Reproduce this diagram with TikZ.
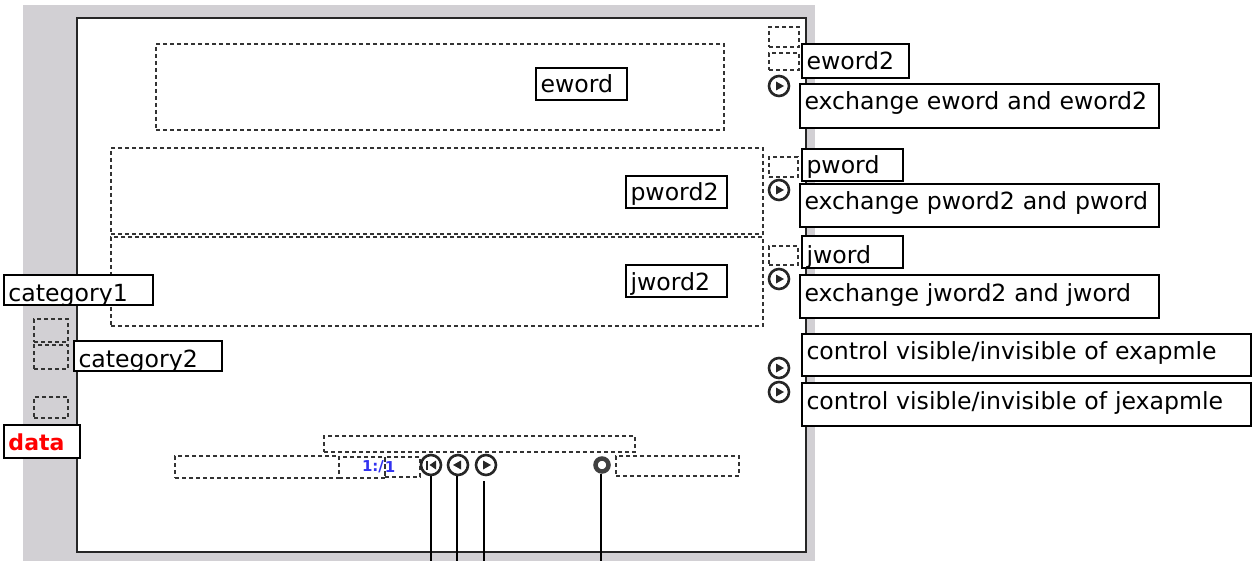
\documentclass[tikz,border=0pt]{standalone}
\usepackage{fontspec}
\setmainfont{DejaVu Sans}
\definecolor{panelgray}{RGB}{210,208,212}
\definecolor{pagerblue}{RGB}{50,50,240}
% [colour]{name}{x1}{y1}{x2}{y2}{baseline y}{text}
\newcommand{\lab}[8][black]{%
  \pgfmathsetmacro{\lblW}{#5-#3-11}%
  \pgfmathsetmacro{\lblH}{#6-#4}%
  \pgfmathsetmacro{\lblR}{(#4+#6)/2-#7}%
  \node[labelbox, text=#1, text width=\lblW pt, minimum height=\lblH pt] (#2) at ({(#3+#5)/2},{(#4+#6)/2}) {\smash{\raisebox{\lblR pt}{#8}}};}
\newcommand{\dbox}[5]{\node[dashbox, minimum width={(#4-#2)*1pt}, minimum height={(#5-#3)*1pt}] (#1) at ({(#2+#4)/2},{(#3+#5)/2}) {};}
\tikzset{
  labelbox/.style={draw=black, fill=white, line width=2pt, inner xsep=5pt, inner ysep=0pt, align=left, font=\fontsize{23.6}{25}\selectfont, anchor=center},
  dashbox/.style={draw=black!80, line width=1.4pt, dash pattern=on 4pt off 3pt, inner sep=0pt, anchor=center},
  roundbtn/.style={circle, draw=black!85, line width=2.6pt, fill=white, minimum size=20pt, inner sep=0pt},
  playbtn/.style={roundbtn, path picture={\fill[black!85] (path picture bounding box.center) ++(-3pt,-4.5pt) -- ++(8pt,4.5pt) -- ++(-8pt,4.5pt) -- cycle;}},
  backbtn/.style={roundbtn, path picture={\fill[black!85] (path picture bounding box.center) ++(3pt,-4.5pt) -- ++(-8pt,4.5pt) -- ++(8pt,4.5pt) -- cycle;}},
  firstbtn/.style={roundbtn, path picture={\fill[black!85] (path picture bounding box.center) ++(5pt,-4.5pt) -- ++(-6.5pt,4.5pt) -- ++(6.5pt,4.5pt) -- cycle; \fill[black!85] (path picture bounding box.center) ++(-5.5pt,-4.5pt) rectangle ++(2pt,9pt);}},
  stopbtn/.style={circle, draw=black!75, line width=4.5pt, fill=white, minimum size=13pt, inner sep=0pt},
  wire/.style={draw=black, line width=2pt},
  pager/.style={text=pagerblue, font=\bfseries\fontsize{15}{15}\selectfont, inner sep=0pt}
}
\begin{document}
\begin{tikzpicture}[x=1pt,y=-1pt]
\useasboundingbox (0,0) rectangle (1252,561);
\fill[panelgray] (23,5) rectangle (815,561);
\draw[black!85, line width=2pt, fill=white] (77,18) rectangle (806,552);
\dbox{eArea}{156}{44}{724}{130}
\dbox{pArea}{111}{148}{763}{234}
\dbox{jArea}{111}{237}{763}{326}
\dbox{eTop}{769}{27}{799}{47}
\dbox{eSecond}{769}{53}{799}{70}
\dbox{pSmall}{769}{157}{798}{177}
\dbox{jSmall}{769}{246}{798}{265}
\dbox{catA}{34}{319}{68}{342}
\dbox{catB}{34}{345}{68}{369}
\dbox{dataBox}{34}{397}{68}{418}
\dbox{barTop}{324}{436}{635}{452}
\dbox{barLeft}{175}{456}{339}{478}
\dbox{barMid}{339}{457}{385}{478}
\dbox{barPage}{385}{457}{420}{477}
\dbox{barRight}{616}{456}{739}{476}
\node[pager] (pageA) at (373,467) {1:/};
\node[pager] (pageB) at (390,467) {1};
\node[playbtn] (btnE) at (779,86) {};
\node[playbtn] (btnP) at (779,190) {};
\node[playbtn] (btnJ) at (779,279) {};
\node[playbtn] (btnV) at (779,368) {};
\node[playbtn] (btnW) at (779,392) {};
\node[firstbtn] (btnFirst) at (431,465) {};
\node[backbtn] (btnBack) at (458,465) {};
\node[playbtn] (btnNext) at (486,465) {};
\node[stopbtn] (btnStop) at (602,465) {};
\coordinate (endFirst) at (431,561);
\coordinate (endBack) at (457,561);
\coordinate (endNext) at (484,561);
\coordinate (endStop) at (601,561);
\draw[wire] (btnFirst.south -| endFirst) -- (endFirst);
\draw[wire] (btnBack.south -| endBack) -- (endBack);
\draw[wire] ([yshift=-5pt]btnNext.south -| endNext) -- (endNext);
\draw[wire] (btnStop.south -| endStop) -- (endStop);
\lab{lEword}{535}{68}{627}{100}{93}{eword}
\lab{lEwordTwo}{801}{44}{909}{78}{70}{eword2}
\lab{lExE}{799}{84}{1159}{128}{110}{exchange eword and eword2}
\lab{lPword}{801}{149}{903}{181}{174}{pword}
\lab{lPwordTwo}{625}{176}{727}{208}{201}{pword2}
\lab{lExP}{799}{184}{1159}{227}{210}{exchange pword2 and pword}
\lab{lJword}{801}{236}{903}{268}{263}{jword}
\lab{lJwordTwo}{625}{265}{727}{297}{290}{jword2}
\lab{lExJ}{799}{275}{1159}{318}{301}{exchange jword2 and jword}
\lab{lCtlA}{801}{334}{1251}{376}{359}{control visible/invisible of exapmle}
\lab{lCtlB}{801}{383}{1251}{426}{409}{control visible/invisible of jexapmle}
\lab{lCatA}{3}{275}{153}{305}{301}{category1}
\lab{lCatB}{73}{341}{222}{371}{367}{category2}
\lab[red]{lData}{3}{425}{80}{458}{450}{\bfseries\fontsize{22}{24}\selectfont data}
\end{tikzpicture}
\end{document}
